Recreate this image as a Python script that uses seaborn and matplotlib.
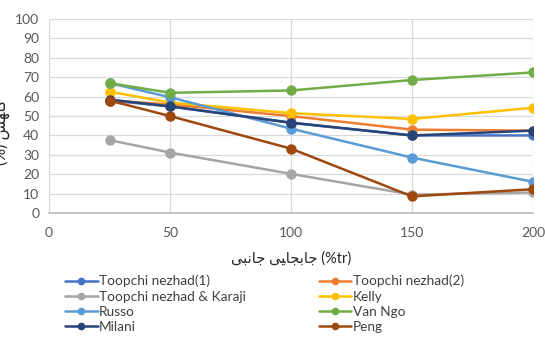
import matplotlib
matplotlib.use("Agg")
import matplotlib.pyplot as plt
import seaborn as sns
import pandas as pd
from matplotlib.lines import Line2D

sns.set_theme(style="whitegrid")
plt.rcParams['font.family'] = ['Lato', 'DejaVu Sans']

drift = [25, 50, 100, 150, 200]
series_names = ["Toopchi nezhad(1)", "Toopchi nezhad(2)", "Toopchi nezhad & Karaji",
                "Kelly", "Russo", "Van Ngo", "Milani", "Peng"]
toopchi1 = [58.0, 55.0, 46.5, 40.0, 40.0]
toopchi2 = [58.0, 56.0, 50.0, 43.0, 42.5]
karaji = [37.6, 31.2, 20.2, 9.5, 10.6]
kelly = [62.6, 57.0, 51.5, 48.5, 54.3]
russo = [67.0, 59.7, 43.5, 28.6, 16.1]
vanngo = [67.0, 62.0, 63.2, 68.6, 72.5]
milani = [58.5, 55.0, 46.6, 40.0, 42.5]
peng = [58.0, 50.0, 33.2, 8.6, 12.3]
colors = ["#4472C4", "#ED7D31", "#A5A5A5", "#FFC000", "#5B9BD5", "#70AD47", "#264478", "#9E480E"]

# Persian labels in visual (shaped, left-to-right drawing) order
xlabel = "\uFEF0\uFE92\uFEE7\uFE8E\uFE9F \uFEF0\uFEF4\uFE8E\uFEA0\uFE91\uFE8E\uFE9F (%tr)"
ylabel = "(%) \uFEB6\uFEEC\uFE8E\uFEDB"

all_vals = [toopchi1, toopchi2, karaji, kelly, russo, vanngo, milani, peng]
rows = []
for name, vals in zip(series_names, all_vals):
    for x, v in zip(drift, vals):
        rows.append({"drift": x, "value": v, "series": name})
df = pd.DataFrame(rows)

fig = plt.figure(figsize=(5.45, 3.47), dpi=100)
ax = fig.add_axes([0.09, 0.386, 0.888, 0.559])
sns.lineplot(data=df, x="drift", y="value", hue="series", hue_order=series_names,
             palette=colors, marker="o", markersize=7.5, markeredgewidth=0,
             linewidth=1.8, ax=ax, legend=False, sort=False)

ax.set_xlim(0, 200)
ax.set_ylim(0, 100)
ax.set_xticks([0, 50, 100, 150, 200])
ax.set_yticks(range(0, 101, 10))
ax.tick_params(axis='both', labelsize=10, colors="#595959")
ax.tick_params(axis='y', length=3.5, width=0.8, color="#BFBFBF", pad=3.5)
ax.tick_params(axis='x', length=0, pad=10)
ax.grid(True, color="#D9D9D9", linewidth=0.9)
for s in ax.spines.values():
    s.set_visible(False)
ax.spines['bottom'].set_visible(True)
ax.spines['bottom'].set_color("#BFBFBF")
ax.set_xlabel(xlabel, fontsize=10.5, color="#262626", labelpad=9)
ax.set_ylabel("")
fig.text(-0.011, 0.62, ylabel, rotation=90, fontsize=11.5, color="#262626",
         ha="left", va="center")

order = [0, 2, 4, 6, 1, 3, 5, 7]
handles = [Line2D([0], [0], color=colors[i], marker="o", markersize=5.5,
                  markeredgewidth=0, linewidth=1.8) for i in order]
labels = [series_names[i] for i in order]
fig.legend(handles, labels, ncol=2, loc="upper left", bbox_to_anchor=(0.119, 0.208),
           frameon=False, fontsize=9.8, handlelength=2.4, handletextpad=0.1,
           columnspacing=5.35, labelspacing=0.24, labelcolor="#404040",
           borderaxespad=0, borderpad=0)

fig.savefig("out.png", dpi=100)
